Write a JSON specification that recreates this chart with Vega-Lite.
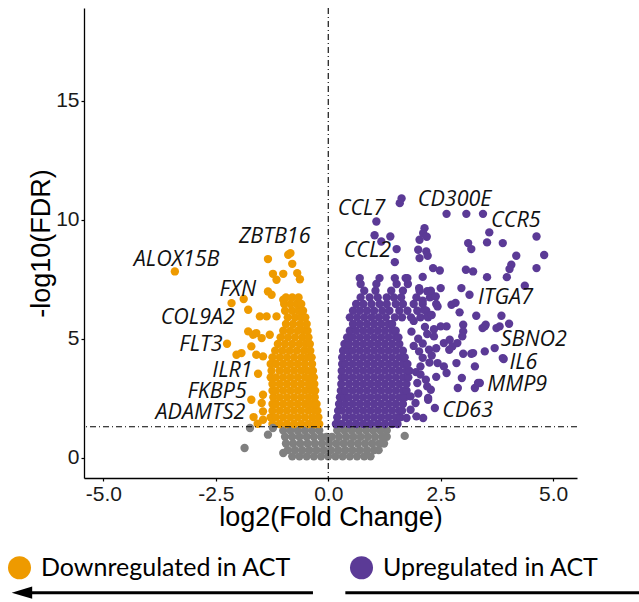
{
  "$schema": "https://vega.github.io/schema/vega-lite/v6.json",
  "width": 493,
  "height": 470,
  "autosize": "none",
  "padding": {"left": 84, "top": 8, "right": 62, "bottom": 124},
  "background": "white",
  "datasets": {
    "grid": [
      {"g":"N","y":1.15,"x":[-1.00,-0.84,-0.68,-0.52,-0.36,-0.20,0.20,0.36,0.52,0.68,0.84,1.00,1.16,1.30]},
      {"g":"N","y":0.88,"x":[-0.96,-0.80,-0.64,-0.48,-0.32,-0.16,-0.04,0.08,0.24,0.40,0.56,0.72,0.88,1.04,1.20,1.30]},
      {"g":"N","y":0.60,"x":[-0.94,-0.78,-0.62,-0.46,-0.30,-0.14,0.02,0.18,0.34,0.50,0.66,0.82,0.98,1.14,1.24]},
      {"g":"N","y":0.32,"x":[-0.90,-0.74,-0.58,-0.42,-0.26,-0.10,0.06,0.22,0.38,0.54,0.70,0.86,1.02,1.12]},
      {"g":"N","y":0.06,"x":[-0.80,-0.64,-0.48,-0.32,-0.16,0.00,0.16,0.32,0.48,0.64,0.80,0.94]},
      {"g":"D","y":1.42,"x":[-1.24,-1.08,-0.92,-0.76,-0.60,-0.44,-0.30,-0.20]},
      {"g":"D","y":1.70,"x":[-1.28,-1.16,-1.00,-0.84,-0.68,-0.52,-0.36,-0.22]},
      {"g":"D","y":1.98,"x":[-1.24,-1.08,-0.92,-0.76,-0.60,-0.44,-0.30,-0.24]},
      {"g":"D","y":2.26,"x":[-1.24,-1.16,-1.00,-0.84,-0.68,-0.52,-0.38,-0.26]},
      {"g":"D","y":2.54,"x":[-1.22,-1.08,-0.92,-0.76,-0.60,-0.44,-0.30]},
      {"g":"D","y":2.82,"x":[-1.24,-1.16,-1.00,-0.84,-0.68,-0.52,-0.38,-0.29]},
      {"g":"D","y":3.10,"x":[-1.24,-1.08,-0.92,-0.76,-0.60,-0.44,-0.31]},
      {"g":"D","y":3.38,"x":[-1.28,-1.16,-1.00,-0.84,-0.68,-0.52,-0.38,-0.32]},
      {"g":"D","y":3.66,"x":[-1.26,-1.08,-0.92,-0.76,-0.60,-0.46,-0.34]},
      {"g":"D","y":3.94,"x":[-1.28,-1.16,-1.00,-0.84,-0.68,-0.52,-0.36]},
      {"g":"D","y":4.22,"x":[-1.24,-1.08,-0.92,-0.76,-0.60,-0.46,-0.37]},
      {"g":"D","y":4.50,"x":[-1.18,-1.02,-0.86,-0.70,-0.54,-0.40]},
      {"g":"D","y":4.78,"x":[-1.12,-0.96,-0.80,-0.64,-0.50,-0.41]},
      {"g":"D","y":5.06,"x":[-1.06,-0.90,-0.74,-0.58,-0.44]},
      {"g":"D","y":5.34,"x":[-1.00,-0.84,-0.68,-0.54,-0.46]},
      {"g":"D","y":5.62,"x":[-0.94,-0.78,-0.62,-0.48]},
      {"g":"D","y":5.90,"x":[-0.90,-0.74,-0.60,-0.51]},
      {"g":"D","y":6.18,"x":[-0.96,-0.80,-0.66,-0.56]},
      {"g":"D","y":6.46,"x":[-0.98,-0.84,-0.70,-0.60]},
      {"g":"D","y":6.74,"x":[-0.94,-0.80,-0.66]},
      {"g":"U","y":1.42,"x":[0.17,0.30,0.46,0.62,0.78,0.94,1.10,1.26,1.42,1.54]},
      {"g":"U","y":1.70,"x":[0.20,0.38,0.54,0.70,0.86,1.02,1.18,1.34,1.50,1.60]},
      {"g":"U","y":1.98,"x":[0.22,0.30,0.46,0.62,0.78,0.94,1.10,1.26,1.42,1.58,1.64]},
      {"g":"U","y":2.26,"x":[0.24,0.38,0.54,0.70,0.86,1.02,1.18,1.34,1.50,1.66]},
      {"g":"U","y":2.54,"x":[0.26,0.36,0.46,0.62,0.78,0.94,1.10,1.26,1.42,1.58,1.70]},
      {"g":"U","y":2.82,"x":[0.28,0.38,0.54,0.70,0.86,1.02,1.18,1.34,1.50,1.66,1.74]},
      {"g":"U","y":3.10,"x":[0.29,0.46,0.62,0.78,0.94,1.10,1.26,1.42,1.58,1.74]},
      {"g":"U","y":3.38,"x":[0.30,0.38,0.54,0.70,0.86,1.02,1.18,1.34,1.50,1.66,1.78]},
      {"g":"U","y":3.66,"x":[0.30,0.46,0.62,0.78,0.94,1.10,1.26,1.42,1.58,1.74,1.80]},
      {"g":"U","y":3.94,"x":[0.31,0.38,0.54,0.70,0.86,1.02,1.18,1.34,1.50,1.66,1.76]},
      {"g":"U","y":4.22,"x":[0.31,0.46,0.62,0.78,0.94,1.10,1.26,1.42,1.58,1.70]},
      {"g":"U","y":4.50,"x":[0.33,0.44,0.54,0.70,0.86,1.02,1.18,1.34,1.50,1.66]},
      {"g":"U","y":4.78,"x":[0.36,0.46,0.62,0.78,0.94,1.10,1.26,1.42,1.58]},
      {"g":"U","y":5.06,"x":[0.42,0.54,0.70,0.86,1.02,1.18,1.34,1.50,1.56]},
      {"g":"U","y":5.34,"x":[0.48,0.62,0.78,0.94,1.10,1.26,1.42,1.50]},
      {"g":"U","y":5.62,"x":[0.55,0.70,0.86,1.02,1.18,1.34,1.42]},
      {"g":"U","y":5.90,"x":[0.48,0.64,0.80,0.96,1.12,1.28,1.48,1.64,1.84,2.05,2.22]},
      {"g":"U","y":6.18,"x":[0.55,0.70,0.86,1.02,1.20,1.36,1.58,1.76,1.98,2.18]},
      {"g":"U","y":6.46,"x":[0.62,0.78,0.96,1.14,1.30,1.50,1.66,1.90,2.10,2.40]},
      {"g":"U","y":6.74,"x":[0.72,0.92,1.10,1.30,1.46,1.62,1.96,2.26]},
      {"g":"U","y":7.02,"x":[0.80,1.05,1.40,1.66,2.03,2.28]},
      {"g":"U","y":7.30,"x":[0.72,1.07,1.52,1.77]},
      {"g":"U","y":7.55,"x":[0.70,1.14,1.48,1.72]}
    ],
    "single": [
      {"g":"N","x":-1.86,"y":0.41},{"g":"N","x":-1.74,"y":1.25},{"g":"N","x":-1.34,"y":0.97},
      {"g":"N","x":-1.23,"y":1.25},{"g":"N","x":-1.00,"y":0.20},{"g":"N","x":1.70,"y":0.92},
      {"g":"D","x":-3.41,"y":7.83},{"g":"D","x":-0.84,"y":8.60},{"g":"D","x":-1.34,"y":8.35},
      {"g":"D","x":-0.80,"y":8.15},{"g":"D","x":-1.23,"y":7.73},{"g":"D","x":-1.00,"y":7.73},
      {"g":"D","x":-0.69,"y":7.76},{"g":"D","x":-0.89,"y":8.53},{"g":"D","x":-1.15,"y":7.48},
      {"g":"D","x":-0.63,"y":7.50},{"g":"D","x":-2.15,"y":6.50},{"g":"D","x":-1.88,"y":6.67},
      {"g":"D","x":-1.78,"y":6.22},{"g":"D","x":-1.34,"y":6.99},{"g":"D","x":-1.26,"y":6.85},
      {"g":"D","x":-1.00,"y":6.64},{"g":"D","x":-1.52,"y":5.94},{"g":"D","x":-1.37,"y":5.94},
      {"g":"D","x":-1.15,"y":5.94},{"g":"D","x":-2.25,"y":4.79},{"g":"D","x":-2.04,"y":4.33},
      {"g":"D","x":-1.93,"y":4.40},{"g":"D","x":-1.78,"y":5.31},{"g":"D","x":-1.67,"y":5.17},
      {"g":"D","x":-1.60,"y":5.24},{"g":"D","x":-1.48,"y":5.03},{"g":"D","x":-1.60,"y":4.33},
      {"g":"D","x":-1.45,"y":4.26},{"g":"D","x":-1.71,"y":4.68},{"g":"D","x":-1.30,"y":5.17},
      {"g":"D","x":-1.56,"y":3.53},{"g":"D","x":-1.45,"y":2.65},{"g":"D","x":-1.71,"y":2.44},
      {"g":"D","x":-1.48,"y":2.30},{"g":"D","x":-1.45,"y":1.95},{"g":"D","x":-1.66,"y":1.71},
      {"g":"D","x":-1.45,"y":1.60},{"g":"D","x":-1.57,"y":1.43},
      {"g":"U","x":1.59,"y":10.70},{"g":"U","x":1.63,"y":10.90},{"g":"U","x":2.63,"y":10.25},
      {"g":"U","x":3.07,"y":10.25},{"g":"U","x":3.44,"y":10.25},{"g":"U","x":3.58,"y":9.47},
      {"g":"U","x":4.63,"y":9.30},{"g":"U","x":1.07,"y":9.93},{"g":"U","x":1.03,"y":9.35},
      {"g":"U","x":1.18,"y":9.09},{"g":"U","x":1.38,"y":9.30},{"g":"U","x":1.52,"y":8.77},
      {"g":"U","x":1.48,"y":8.22},{"g":"U","x":2.14,"y":9.65},{"g":"U","x":2.11,"y":9.44},
      {"g":"U","x":2.19,"y":9.29},{"g":"U","x":2.03,"y":9.16},{"g":"U","x":2.00,"y":8.74},
      {"g":"U","x":2.18,"y":8.67},{"g":"U","x":2.03,"y":8.39},{"g":"U","x":2.21,"y":8.49},
      {"g":"U","x":2.33,"y":7.97},{"g":"U","x":2.48,"y":7.87},{"g":"U","x":3.11,"y":9.02},
      {"g":"U","x":3.18,"y":8.77},{"g":"U","x":3.53,"y":9.05},{"g":"U","x":3.88,"y":9.02},
      {"g":"U","x":4.18,"y":8.49},{"g":"U","x":4.80,"y":8.52},{"g":"U","x":4.07,"y":8.11},
      {"g":"U","x":4.03,"y":7.93},{"g":"U","x":4.63,"y":7.97},{"g":"U","x":3.06,"y":7.90},
      {"g":"U","x":3.22,"y":7.83},{"g":"U","x":3.53,"y":7.59},{"g":"U","x":3.97,"y":7.59},
      {"g":"U","x":4.37,"y":7.23},{"g":"U","x":2.96,"y":7.13},{"g":"U","x":3.14,"y":6.85},
      {"g":"U","x":2.74,"y":6.43},{"g":"U","x":2.83,"y":6.51},{"g":"U","x":2.92,"y":6.11},
      {"g":"U","x":3.29,"y":5.97},{"g":"U","x":3.43,"y":5.45},{"g":"U","x":3.85,"y":5.97},
      {"g":"U","x":4.02,"y":5.63},{"g":"U","x":3.74,"y":5.45},{"g":"U","x":3.00,"y":5.59},
      {"g":"U","x":3.50,"y":5.59},{"g":"U","x":3.81,"y":5.52},{"g":"U","x":3.00,"y":5.31},
      {"g":"U","x":2.63,"y":5.52},{"g":"U","x":2.70,"y":4.96},{"g":"U","x":3.70,"y":4.61},
      {"g":"U","x":3.48,"y":4.47},{"g":"U","x":3.18,"y":4.37},{"g":"U","x":3.00,"y":4.37},
      {"g":"U","x":3.90,"y":4.15},{"g":"U","x":3.26,"y":3.84},{"g":"U","x":2.85,"y":3.98},
      {"g":"U","x":2.63,"y":3.56},{"g":"U","x":3.37,"y":3.14},{"g":"U","x":3.26,"y":2.93},
      {"g":"U","x":2.97,"y":3.35},{"g":"U","x":2.88,"y":2.93},{"g":"U","x":2.37,"y":2.09},
      {"g":"U","x":2.22,"y":2.44},{"g":"U","x":2.11,"y":1.67},{"g":"U","x":1.96,"y":1.74},
      {"g":"U","x":1.74,"y":1.67},{"g":"U","x":1.76,"y":7.55},{"g":"U","x":2.02,"y":7.13},
      {"g":"U","x":2.28,"y":6.92},{"g":"U","x":2.50,"y":7.13},{"g":"U","x":2.39,"y":6.78},
      {"g":"U","x":2.43,"y":6.36},{"g":"U","x":2.13,"y":6.22},{"g":"U","x":2.20,"y":5.94},
      {"g":"U","x":2.50,"y":5.52},{"g":"U","x":2.35,"y":5.10},{"g":"U","x":2.57,"y":4.82},
      {"g":"U","x":2.76,"y":4.68},{"g":"U","x":2.69,"y":4.54},{"g":"U","x":2.87,"y":4.82},
      {"g":"U","x":2.24,"y":4.54},{"g":"U","x":2.02,"y":4.47},{"g":"U","x":2.43,"y":3.98},
      {"g":"U","x":2.57,"y":3.84},{"g":"U","x":2.05,"y":3.84},{"g":"U","x":2.17,"y":3.28},
      {"g":"U","x":1.98,"y":3.14},{"g":"U","x":2.28,"y":2.86},{"g":"U","x":1.83,"y":2.58},
      {"g":"U","x":1.94,"y":2.30},{"g":"U","x":1.83,"y":2.02},{"g":"U","x":2.98,"y":5.10},
      {"g":"U","x":1.85,"y":5.30},{"g":"U","x":2.00,"y":5.00},{"g":"U","x":1.90,"y":4.70},
      {"g":"U","x":2.10,"y":4.20},{"g":"U","x":1.95,"y":3.60},{"g":"U","x":2.15,"y":5.50},
      {"g":"U","x":1.90,"y":5.75},{"g":"U","x":2.30,"y":4.30},{"g":"U","x":2.10,"y":7.60},
      {"g":"U","x":2.20,"y":7.00},{"g":"U","x":2.10,"y":6.60},{"g":"U","x":2.30,"y":6.00},
      {"g":"U","x":2.35,"y":5.40},{"g":"U","x":2.20,"y":5.20},{"g":"U","x":2.10,"y":4.80},
      {"g":"U","x":2.40,"y":4.60},{"g":"U","x":2.25,"y":4.00},{"g":"U","x":2.05,"y":3.50},
      {"g":"U","x":2.40,"y":3.40},{"g":"U","x":2.20,"y":3.00},{"g":"U","x":2.00,"y":2.70},
      {"g":"U","x":3.22,"y":4.40},{"g":"U","x":3.88,"y":4.19},{"g":"U","x":3.33,"y":3.14},
      {"g":"U","x":2.22,"y":2.51},{"g":"U","x":3.48,"y":5.52}
    ],
    "labels": [
      {"t":"ALOX15B","x":-3.37,"y":8.32},{"t":"ZBTB16","x":-1.19,"y":9.29},
      {"t":"FXN","x":-2.01,"y":7.06},{"t":"COL9A2","x":-2.90,"y":5.87},
      {"t":"FLT3","x":-2.83,"y":4.75},{"t":"ILR1","x":-2.13,"y":3.63},
      {"t":"FKBP5","x":-2.47,"y":2.76},{"t":"ADAMTS2","x":-2.84,"y":1.90},
      {"t":"CCL7","x":0.74,"y":10.45},{"t":"CD300E","x":2.81,"y":10.84},
      {"t":"CCR5","x":4.17,"y":9.93},{"t":"CCL2","x":0.87,"y":8.67},
      {"t":"ITGA7","x":3.94,"y":6.71},{"t":"SBNO2","x":4.57,"y":4.93},
      {"t":"IL6","x":4.34,"y":3.98},{"t":"MMP9","x":4.20,"y":3.07},
      {"t":"CD63","x":3.10,"y":1.95}
    ],
    "arrows": [
      {"x":-6.81,"x2":-0.34,"y":-5.67},
      {"x":0.38,"x2":7.5,"y":-5.67}
    ]
  },
  "layer": [
    {
      "data": {"name": "grid"},
      "transform": [{"flatten": ["x"]}],
      "mark": {"type": "point", "filled": true, "size": 70, "opacity": 1},
      "encoding": {
        "x": {"field": "x", "type": "quantitative", "scale": {"domain": [-5.43, 5.53], "nice": false, "zero": false},
          "axis": {"values": [-5, -2.5, 0, 2.5, 5], "labelExpr": "replace(format(datum.value, '.1f'), '\u2212', '-')", "title": "log2(Fold Change)", "titlePadding": 0}},
        "y": {"field": "y", "type": "quantitative", "scale": {"domain": [-0.85, 18.9], "nice": false, "zero": false},
          "axis": {"values": [0, 5, 10, 15], "title": "-log10(FDR)", "titlePadding": 0}},
        "color": {"field": "g", "type": "nominal",
          "scale": {"domain": ["D", "U", "N"], "range": ["#EE9A00", "#5B3A96", "#808080"]},
          "legend": {"values": ["D", "U"], "labelExpr": "datum.label == 'D' ? 'Downregulated in ACT' : 'Upregulated in ACT'",
            "orient": "none", "legendX": -77, "legendY": 547, "direction": "horizontal", "title": null,
            "symbolType": "circle", "symbolSize": 530, "symbolStrokeWidth": 0, "symbolOpacity": 1,
            "labelFont": "Lato", "labelFontSize": 25, "labelColor": "#000", "labelOffset": 9,
            "columnPadding": 57, "padding": 0, "labelLimit": 500}}
      }
    },
    {
      "data": {"name": "single"},
      "mark": {"type": "point", "filled": true, "size": 70, "opacity": 1},
      "encoding": {
        "x": {"field": "x", "type": "quantitative"},
        "y": {"field": "y", "type": "quantitative"},
        "color": {"field": "g", "type": "nominal"}
      }
    },
    {
      "data": {"values": [{}]},
      "mark": {"type": "rule", "color": "#000", "strokeWidth": 1.1, "strokeDash": [6, 3, 1, 3]},
      "encoding": {"x": {"datum": 0}}
    },
    {
      "data": {"values": [{}]},
      "mark": {"type": "rule", "color": "#000", "strokeWidth": 1.1, "strokeDash": [6, 3, 1, 3]},
      "encoding": {"y": {"datum": 1.301}}
    },
    {
      "data": {"name": "labels"},
      "mark": {"type": "text", "font": "Open Sans", "fontStyle": "italic", "fontSize": 21.5, "color": "#111", "align": "center", "baseline": "middle"},
      "encoding": {
        "x": {"field": "x", "type": "quantitative"},
        "y": {"field": "y", "type": "quantitative"},
        "text": {"field": "t"}
      }
    },
    {
      "data": {"name": "arrows"},
      "mark": {"type": "rule", "color": "#000", "strokeWidth": 3, "clip": false},
      "encoding": {
        "x": {"field": "x", "type": "quantitative"},
        "x2": {"field": "x2"},
        "y": {"field": "y", "type": "quantitative"}
      }
    },
    {
      "data": {"values": [{"x": -6.81, "y": -5.67}]},
      "mark": {"type": "point", "shape": "M-1,0L1,-0.6L1,0.6Z", "filled": true, "color": "#000", "size": 420, "opacity": 1, "clip": false},
      "encoding": {
        "x": {"field": "x", "type": "quantitative"},
        "y": {"field": "y", "type": "quantitative"}
      }
    }
  ],
  "config": {
    "view": {"stroke": null},
    "axis": {"grid": false, "domainColor": "#000", "domainWidth": 1.3, "tickColor": "#000", "tickWidth": 1.2, "tickSize": 3,
      "labelFont": "Liberation Sans", "labelFontSize": 21, "labelColor": "#1a1a1a", "labelPadding": 2,
      "titleFont": "Liberation Sans", "titleFontSize": 27, "titleFontWeight": "normal", "titleColor": "#000"}
  }
}
